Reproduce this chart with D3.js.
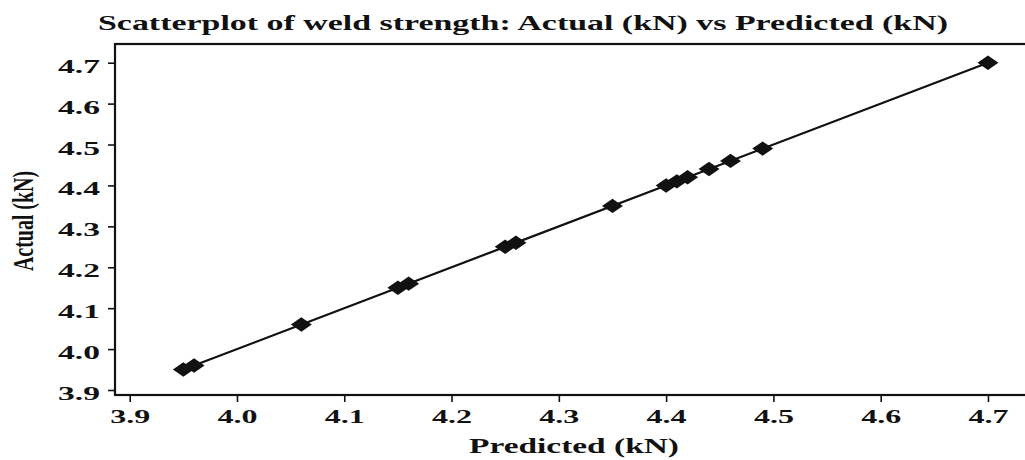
<!DOCTYPE html>
<html lang="en">
<head>
    <meta charset="UTF-8">
    <title>Scatterplot of weld strength</title>
    <script src="https://d3js.org/d3.v7.min.js"></script>
    <style>
        body {
            margin: 0;
            padding: 0;
            background: #fff;
        }
        svg {
            display: block;
        }
        text {
            font-family: "Liberation Serif", "Times New Roman", serif;
            font-weight: bold;
            fill: #111;
        }
    </style>
</head>
<body>
    <svg></svg>

    <script>
        // weld strength values
        const predicted = [3.95, 3.96, 4.06, 4.15, 4.16, 4.25, 4.26, 4.35, 4.40, 4.41, 4.42, 4.44, 4.46, 4.49, 4.70];
        const actual    = [3.95, 3.96, 4.06, 4.15, 4.16, 4.25, 4.26, 4.35, 4.40, 4.41, 4.42, 4.44, 4.46, 4.49, 4.70];
        const xTicks = [3.9, 4.0, 4.1, 4.2, 4.3, 4.4, 4.5, 4.6, 4.7];
        const yTicks = [3.9, 4.0, 4.1, 4.2, 4.3, 4.4, 4.5, 4.6, 4.7];
        // fitted line: Actual = intercept + slope * Predicted
        const fitIntercept = [0];
        const fitSlope = [1];

        const width = 1025;
        const height = 460;
        const plot = { left: 115, top: 44, right: 1032, bottom: 395 };

        const svg = d3.select("svg")
            .attr("width", width)
            .attr("height", height);

        const x = d3.scaleLinear()
            .domain([3.8863, 4.7373 + (1032 - 1028) / 1071.6])
            .range([plot.left, plot.right]);

        const y = d3.scaleLinear()
            .domain([3.8878, 4.7457])
            .range([plot.bottom, plot.top]);

        // frame
        svg.append("rect")
            .attr("x", plot.left)
            .attr("y", plot.top)
            .attr("width", plot.right - plot.left)
            .attr("height", plot.bottom - plot.top)
            .attr("fill", "none")
            .attr("stroke", "#111")
            .attr("stroke-width", 2.2);

        // axes
        const xAxis = svg.append("g")
            .attr("transform", `translate(0,${plot.bottom})`)
            .call(d3.axisBottom(x).tickValues(xTicks).tickFormat(d3.format(".1f")).tickSize(7).tickSizeOuter(0));

        const yAxis = svg.append("g")
            .attr("transform", `translate(${plot.left},0)`)
            .call(d3.axisLeft(y).tickValues(yTicks).tickFormat(d3.format(".1f")).tickSize(7).tickSizeOuter(0));

        [xAxis, yAxis].forEach(a => {
            a.select(".domain").remove();
            a.selectAll(".tick line").attr("stroke", "#111").attr("stroke-width", 1.6);
            a.selectAll("text")
                .attr("font-family", null)
                .style("font-size", "18px")
                .attr("fill", "#111");
        });

        xAxis.selectAll(".tick text")
            .attr("text-anchor", "start")
            .attr("x", -20)
            .attr("y", 28)
            .attr("dy", null)
            .attr("textLength", 40)
            .attr("lengthAdjust", "spacingAndGlyphs");

        yAxis.selectAll(".tick text")
            .attr("text-anchor", "start")
            .attr("x", -57)
            .attr("dy", null)
            .attr("y", 9.5)
            .attr("textLength", 42)
            .attr("lengthAdjust", "spacingAndGlyphs");

        // fitted line across the data range
        const xExt = d3.extent(predicted);
        const fit = xExt.map(v => [v, fitIntercept[0] + fitSlope[0] * v]);
        svg.append("path")
            .datum(fit)
            .attr("fill", "none")
            .attr("stroke", "#111")
            .attr("stroke-width", 2.2)
            .attr("d", d3.line().x(d => x(d[0])).y(d => y(d[1])));

        // diamonds, drawn wide and flat like the original
        const diamond = d3.symbol().type(d3.symbolDiamond).size(110);
        svg.append("g")
            .selectAll("path")
            .data(predicted.map((p, i) => [p, actual[i]]))
            .join("path")
            .attr("d", diamond)
            .attr("fill", "#111")
            .attr("transform", d => `translate(${x(d[0])},${y(d[1])}) scale(1.86,0.74)`);

        // titles
        svg.append("text")
            .attr("x", 98)
            .attr("y", 30)
            .attr("textLength", 850)
            .attr("lengthAdjust", "spacingAndGlyphs")
            .style("font-size", "22px")
            .text("Scatterplot of weld strength: Actual (kN) vs Predicted (kN)");

        svg.append("text")
            .attr("x", 469)
            .attr("y", 453)
            .attr("textLength", 210)
            .attr("lengthAdjust", "spacingAndGlyphs")
            .style("font-size", "20px")
            .text("Predicted (kN)");

        svg.append("text")
            .attr("transform", "translate(33,221) scale(1.55,1) rotate(-90)")
            .attr("text-anchor", "middle")
            .attr("textLength", 100)
            .attr("lengthAdjust", "spacingAndGlyphs")
            .style("font-size", "19px")
            .text("Actual (kN)");
    </script>
</body>
</html>
